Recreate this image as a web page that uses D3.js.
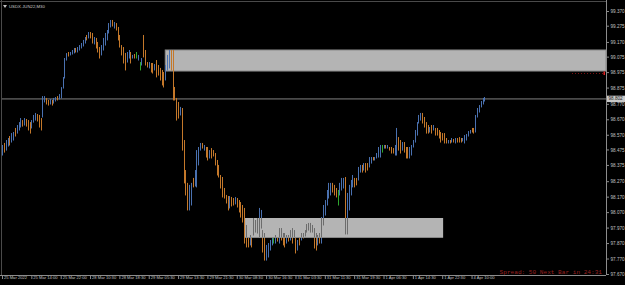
<!DOCTYPE html>
<html>
<head>
<meta charset="utf-8">
<script src="https://cdn.jsdelivr.net/npm/d3@7"></script>
<style>
  body { margin: 0; background: #000; }
  svg { display: block; }
</style>
</head>
<body>
<svg id="chart" width="625" height="285"></svg>
<script>
// USDX.JUN22, M30 bars
const symbol = "USDX.JUN22,M30";
const timeLabels = ["25 Mar 2022", "25 Mar 14:00", "25 Mar 22:00", "28 Mar 10:30", "28 Mar 18:30", "29 Mar 05:30",
  "29 Mar 13:30", "29 Mar 21:30", "30 Mar 08:30", "30 Mar 16:30", "31 Mar 03:30", "31 Mar 11:30",
  "31 Mar 19:30", "1 Apr 06:30", "1 Apr 14:30", "1 Apr 22:30", "4 Apr 10:00"];
const priceTicks = [99.370, 99.275, 99.170, 99.075, 98.975, 98.875, 98.770, 98.670, 98.570,
  98.475, 98.375, 98.270, 98.170, 98.070, 97.970, 97.870, 97.770, 97.670];

const highs = [
  98.504, 98.517, 98.536, 98.549, 98.562, 98.581, 98.588, 98.614, 98.633, 98.652,
  98.678, 98.665, 98.678, 98.672, 98.665, 98.652, 98.665, 98.698, 98.711, 98.704,
  98.698, 98.678, 98.820, 98.820, 98.808, 98.795, 98.801, 98.795, 98.808, 98.814,
  98.820, 98.833, 98.878, 98.943, 99.066, 99.098, 99.105, 99.105, 99.118, 99.131,
  99.131, 99.137, 99.150, 99.163, 99.183, 99.202, 99.215, 99.234, 99.234, 99.228,
  99.202, 99.196, 99.170, 99.137, 99.150, 99.196, 99.228, 99.247, 99.292, 99.312,
  99.312, 99.299, 99.292, 99.267, 99.215, 99.150, 99.137, 99.099, 99.105, 99.118,
  99.105, 99.086, 99.092, 99.105, 99.086, 99.040, 99.066, 99.215, 99.118, 99.040,
  99.040, 99.034, 99.034, 99.027, 99.053, 99.021, 99.002, 98.989, 98.976, 99.021,
  99.086, 99.118, 99.118, 99.118, 98.879, 98.808, 98.782, 98.750, 98.743, 98.536,
  98.342, 98.259, 98.246, 98.259, 98.291, 98.342, 98.471, 98.491, 98.517, 98.517,
  98.504, 98.491, 98.491, 98.471, 98.484, 98.471, 98.452, 98.407, 98.375, 98.310,
  98.297, 98.226, 98.181, 98.174, 98.174, 98.168, 98.161, 98.168, 98.161, 98.148,
  98.135, 98.116, 98.097, 97.987, 97.909, 97.922, 97.909, 98.032, 98.019, 98.032,
  98.097, 98.084, 97.954, 97.935, 97.858, 97.870, 97.890, 97.909, 97.909, 97.922,
  97.909, 97.967, 97.967, 97.935, 97.935, 97.922, 97.922, 97.954, 97.967, 97.954,
  97.909, 97.890, 97.909, 97.935, 97.935, 97.954, 97.993, 98.000, 98.000, 97.987,
  97.967, 97.935, 97.922, 97.935, 98.038, 98.116, 98.148, 98.213, 98.259, 98.259,
  98.259, 98.246, 98.226, 98.213, 98.259, 98.291, 98.291, 98.297, 98.194, 98.246,
  98.278, 98.310, 98.291, 98.291, 98.362, 98.375, 98.375, 98.387, 98.387, 98.387,
  98.426, 98.426, 98.426, 98.426, 98.452, 98.491, 98.504, 98.504, 98.504, 98.504,
  98.504, 98.491, 98.491, 98.484, 98.504, 98.614, 98.555, 98.536, 98.523, 98.523,
  98.491, 98.491, 98.491, 98.504, 98.536, 98.601, 98.652, 98.698, 98.711, 98.711,
  98.685, 98.652, 98.633, 98.620, 98.633, 98.633, 98.614, 98.614, 98.601, 98.588,
  98.581, 98.581, 98.549, 98.536, 98.536, 98.549, 98.543, 98.549, 98.549, 98.555,
  98.549, 98.549, 98.568, 98.575, 98.594, 98.601, 98.614, 98.614, 98.698, 98.743,
  98.762, 98.788, 98.808, 98.814];

const lows = [
  98.439, 98.458, 98.471, 98.497, 98.504, 98.523, 98.536, 98.562, 98.581, 98.601,
  98.620, 98.626, 98.633, 98.626, 98.601, 98.581, 98.614, 98.652, 98.665, 98.659,
  98.620, 98.601, 98.685, 98.782, 98.769, 98.762, 98.769, 98.762, 98.775, 98.788,
  98.795, 98.801, 98.808, 98.872, 98.937, 99.053, 99.079, 99.086, 99.092, 99.099,
  99.105, 99.105, 99.118, 99.131, 99.144, 99.163, 99.183, 99.196, 99.196, 99.163,
  99.157, 99.131, 99.105, 99.066, 99.086, 99.118, 99.150, 99.183, 99.228, 99.267,
  99.273, 99.260, 99.247, 99.183, 99.137, 99.086, 99.034, 98.989, 99.040, 99.066,
  99.034, 99.066, 99.066, 99.066, 99.053, 98.989, 99.021, 99.073, 99.021, 99.008,
  99.002, 98.976, 98.969, 98.989, 98.944, 98.956, 98.924, 98.892, 98.879, 98.924,
  98.989, 99.002, 98.989, 98.795, 98.795, 98.665, 98.678, 98.698, 98.471, 98.259,
  98.181, 98.084, 98.084, 98.116, 98.233, 98.239, 98.233, 98.375, 98.471, 98.484,
  98.471, 98.426, 98.407, 98.420, 98.420, 98.433, 98.375, 98.310, 98.297, 98.226,
  98.168, 98.161, 98.129, 98.084, 98.097, 98.110, 98.116, 98.123, 98.103, 98.071,
  98.038, 98.006, 97.870, 97.845, 97.845, 97.858, 97.845, 97.922, 97.941, 97.935,
  97.909, 97.967, 97.812, 97.760, 97.760, 97.780, 97.825, 97.858, 97.870, 97.870,
  97.883, 97.870, 97.890, 97.858, 97.845, 97.870, 97.883, 97.890, 97.870, 97.909,
  97.806, 97.825, 97.858, 97.890, 97.903, 97.916, 97.941, 97.954, 97.941, 97.941,
  97.838, 97.825, 97.858, 97.870, 97.870, 97.987, 98.051, 98.116, 98.161, 98.181,
  98.200, 98.181, 98.168, 98.116, 98.181, 98.213, 98.226, 97.929, 97.929, 98.084,
  98.181, 98.233, 98.233, 98.246, 98.278, 98.329, 98.329, 98.342, 98.329, 98.342,
  98.362, 98.387, 98.407, 98.407, 98.420, 98.426, 98.426, 98.458, 98.484, 98.484,
  98.484, 98.471, 98.452, 98.452, 98.439, 98.439, 98.471, 98.452, 98.471, 98.458,
  98.420, 98.420, 98.420, 98.439, 98.491, 98.523, 98.568, 98.646, 98.665, 98.646,
  98.620, 98.581, 98.581, 98.588, 98.581, 98.601, 98.568, 98.568, 98.549, 98.523,
  98.536, 98.517, 98.517, 98.517, 98.517, 98.523, 98.523, 98.517, 98.523, 98.523,
  98.523, 98.530, 98.517, 98.536, 98.562, 98.581, 98.588, 98.581, 98.588, 98.685,
  98.717, 98.750, 98.769, 98.788];

// u = bull bar, d = bear bar, g = doji
const dirs = ("uduuduuduu" + "ududdduuud" + "dduudduduu" + "duuuuuduuu" + "duuuuududd" +
  "uddduuuuuu" + "dudddddduu" + "dudguguddd" + "uddudddddu" + "uudddddudd" +
  "dduuduuuud" + "uddudddddd" + "dddduddudd" + "dddddududd" + "uudduuuugu" +
  "dudddududu" + "dududuudud" + "dduduuuuuu" + "dddguuuduu" + "uudduududd" +
  "uuduuuugud" + "uddduuddud" + "dduuuuuuud" + "dddududddd" + "dddudududd" +
  "duuuuudduu" + "uuuu").split("");

const lastPrice = 98.802;
const markerPrice = 98.969;
// zones: [from bar, to bar, top price, bottom price]
const upperZone = [89, 329, 99.118, 98.982];
const lowerZone = [132.5, 240.5, 98.032, 97.909];

const colors = { u: "#4a71b0", d: "#c4782a", g: "#2ea82e" };

const svg = d3.select("#chart");
const W = 625, H = 285, right = 606, bottom = 275;

const x = d3.scaleLinear().domain([0, 263]).range([2, 484.4]);
const y = d3.scaleLinear().domain([97.670, 99.370]).range([274, 11]);

svg.append("rect").attr("width", W).attr("height", H).attr("fill", "#000");

svg.append("defs").append("clipPath").attr("id", "lowClip")
  .append("rect")
  .attr("x", x(lowerZone[0])).attr("y", y(lowerZone[2]))
  .attr("width", x(lowerZone[1]) - x(lowerZone[0])).attr("height", y(lowerZone[3]) - y(lowerZone[2]));

// upper zone behind the bars
svg.append("rect")
  .attr("x", x(upperZone[0])).attr("y", y(upperZone[2]))
  .attr("width", right - x(upperZone[0])).attr("height", y(upperZone[3]) - y(upperZone[2]))
  .attr("fill", "#b4b4b4").attr("stroke", "#8a8a8a").attr("stroke-width", 1);

// last price line
svg.append("line").attr("x1", 1).attr("x2", right).attr("y1", y(lastPrice)).attr("y2", y(lastPrice))
  .attr("stroke", "#4a4a4a").attr("stroke-width", 1.6);

const bars = d3.range(highs.length);
const px = i => Math.round(x(i)) + 0.5;

svg.append("g").selectAll("line").data(bars).join("line")
  .attr("x1", px).attr("x2", px)
  .attr("y1", i => y(highs[i])).attr("y2", i => y(lows[i]) + 0.5)
  .attr("stroke", i => colors[dirs[i]]).attr("stroke-width", 1);

// lower zone over the bars, bars inside it show grey
svg.append("rect")
  .attr("x", x(lowerZone[0])).attr("y", y(lowerZone[2]))
  .attr("width", x(lowerZone[1]) - x(lowerZone[0])).attr("height", y(lowerZone[3]) - y(lowerZone[2]))
  .attr("fill", "#b4b4b4");
svg.append("g").attr("clip-path", "url(#lowClip)").selectAll("line").data(bars).join("line")
  .attr("x1", px).attr("x2", px)
  .attr("y1", i => y(highs[i])).attr("y2", i => y(lows[i]) + 0.5)
  .attr("stroke", "#6c6c6c").attr("stroke-width", 1);
svg.append("line")
  .attr("x1", x(lowerZone[0])).attr("x2", x(lowerZone[1]))
  .attr("y1", y(lowerZone[3]) + 0.5).attr("y2", y(lowerZone[3]) + 0.5)
  .attr("stroke", "#8a8a8a");

// red dotted marker line at right
svg.append("line").attr("x1", 572).attr("x2", right - 2).attr("y1", Math.round(y(markerPrice)) + 0.5).attr("y2", Math.round(y(markerPrice)) + 0.5)
  .attr("stroke", "#b01818").attr("stroke-width", 0.7).attr("stroke-dasharray", "1,2");
svg.append("rect").attr("x", right - 2.5).attr("y", y(markerPrice) - 1.5).attr("width", 1.5).attr("height", 3.5).attr("fill", "#e02020");

// frame
svg.append("line").attr("x1", 1.5).attr("x2", 1.5).attr("y1", 0).attr("y2", bottom).attr("stroke", "#4a4a4a");
svg.append("line").attr("x1", 0).attr("x2", right).attr("y1", 1.5).attr("y2", 1.5).attr("stroke", "#4a4a4a");
svg.append("line").attr("x1", right + 0.5).attr("x2", right + 0.5).attr("y1", 0).attr("y2", bottom).attr("stroke", "#8c8c8c");
svg.append("line").attr("x1", 0).attr("x2", right).attr("y1", bottom + 0.5).attr("y2", bottom + 0.5).attr("stroke", "#8c8c8c");

// price axis
const yAxis = svg.append("g").attr("transform", `translate(${right + 0.5},0)`)
  .call(d3.axisRight(y).tickValues(priceTicks).tickFormat(d3.format(".3f")).tickSize(2.5).tickPadding(1.5));
yAxis.select(".domain").remove();
yAxis.selectAll("line").attr("stroke", "#8c8c8c");
yAxis.selectAll("text").attr("fill", "#c0c0c0").attr("font-family", "Liberation Sans, Arial, sans-serif")
  .attr("font-size", 4.6).attr("dy", "0.35em");

// time axis
const xAxis = svg.append("g").attr("transform", `translate(0,${bottom + 0.5})`)
  .call(d3.axisBottom(x).tickValues(timeLabels.map((d, k) => k * 16)).tickFormat((d, k) => timeLabels[k]).tickSize(3.5).tickPadding(1));
xAxis.select(".domain").remove();
xAxis.selectAll("line").attr("stroke", "#8c8c8c");
xAxis.selectAll("text").attr("fill", "#c0c0c0").attr("font-family", "Liberation Sans, Arial, sans-serif")
  .attr("font-size", 4.1).attr("text-anchor", "start").attr("dx", 1.5).attr("dy", "-0.2em");

// last price tag
const ly = y(lastPrice);
svg.append("rect").attr("x", right + 1).attr("y", ly - 3.2).attr("width", 18).attr("height", 6.4).attr("fill", "#c8c8c8");
svg.append("text").attr("x", right + 2.5).attr("y", ly).attr("dy", "0.35em")
  .attr("font-family", "Liberation Sans, Arial, sans-serif").attr("font-size", 4.6).attr("fill", "#202020")
  .text(d3.format(".3f")(lastPrice));

// title
svg.append("path").attr("d", "M3,5 L7,5 L5,8 Z").attr("fill", "#c0c0c0");
svg.append("text").attr("x", 9).attr("y", 6.5).attr("dy", "0.35em")
  .attr("font-family", "Liberation Sans, Arial, sans-serif").attr("font-size", 4.3).attr("fill", "#c8c8c8")
  .text(symbol);

// spread / timer comment
svg.append("text").attr("x", 602).attr("y", 273.5).attr("text-anchor", "end")
  .attr("font-family", "Liberation Mono, DejaVu Sans Mono, monospace").attr("font-size", 6.1).attr("fill", "#9a2020")
  .text("Spread: 50  Next Bar in 24:31");
</script>
</body>
</html>
